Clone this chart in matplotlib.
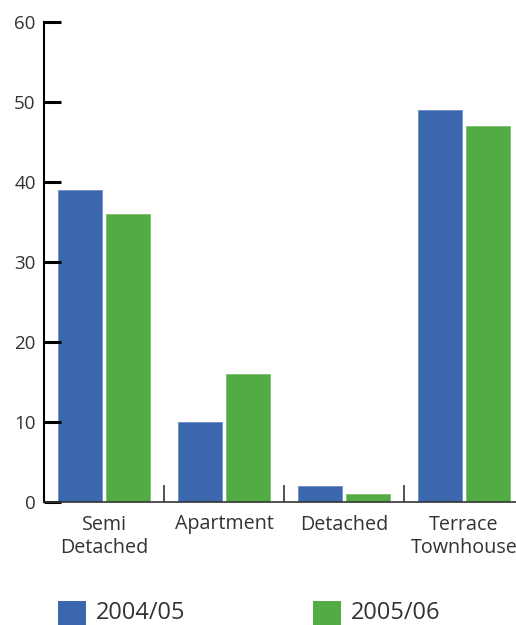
import matplotlib
matplotlib.use("Agg")
import matplotlib.pyplot as plt
from matplotlib.patches import Rectangle
import numpy as np

categories = ["Semi\nDetached", "Apartment", "Detached", "Terrace\nTownhouse"]
series_names = ["2004/05", "2005/06"]
values_2004 = [39, 10, 2, 49]
values_2005 = [36, 16, 1, 47]
y_ticks = [0, 10, 20, 30, 40, 50, 60]

blue = "#3b67ae"
green = "#53ab44"
text_color = "#333333"

plt.rcParams["font.family"] = ["Open Sans", "DejaVu Sans"]

W, H = 516, 625
fig = plt.figure(figsize=(W / 100, H / 100), dpi=100)
ax = fig.add_axes([44 / W, 1 - 502 / H, 480 / W, 480 / H])

x = np.arange(len(categories))
bw = 44 / 120
ax.bar(x - 0.2, values_2004, width=bw, color=blue, edgecolor="#6b8cc4", linewidth=0.6)
ax.bar(x + 0.2, values_2005, width=bw, color=green, edgecolor="#7cc070", linewidth=0.6)

ax.set_xlim(-0.5, len(categories) - 0.5)
ax.set_ylim(0, 60)
ax.set_yticks(y_ticks)
ax.set_yticklabels([str(v) for v in y_ticks])

# category labels centred under each group, ticks on group boundaries
ax.set_xticks(x)
ax.set_xticklabels(categories, linespacing=1.22)
ax.set_xticks(np.arange(len(categories)) + 0.5, minor=True)
ax.tick_params(axis="x", which="major", length=0, pad=9, labelsize=14.2, labelcolor=text_color)
ax.tick_params(axis="x", which="minor", direction="in", length=12, width=1.2, color="#333333")
ax.tick_params(axis="y", direction="in", length=12, width=2.2, pad=6, labelsize=13.5,
               labelcolor=text_color, color="black")

for side in ("top", "right"):
    ax.spines[side].set_visible(False)
ax.spines["left"].set_linewidth(1.5)
ax.spines["bottom"].set_linewidth(1.2)
ax.spines["bottom"].set_color("#333333")

# legend drawn as swatches along the bottom edge
legend_items = [(series_names[0], blue, 58), (series_names[1], green, 313)]
for name, col, px in legend_items:
    fig.patches.append(Rectangle((px / W, 0), 28 / W, 24 / H, transform=fig.transFigure,
                                 facecolor=col, edgecolor="none"))
    fig.text((px + 38) / W, 12 / H, name, fontsize=17, color=text_color, va="center", ha="left")

fig.savefig("out.png", dpi=100)
